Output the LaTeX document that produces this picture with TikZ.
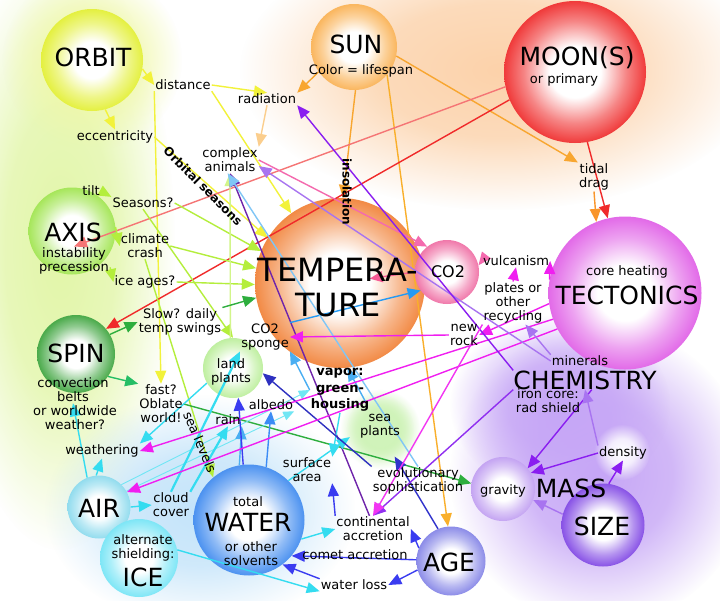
\documentclass[tikz,border=0pt]{standalone}
\usepackage{fontspec}
\setmainfont{DejaVu Sans}
\usetikzlibrary{arrows.meta,fadings}
\colorlet{ballc}{white}
\definecolor{cOrbit}{HTML}{E4F040}
\definecolor{cSun}{HTML}{FAB65E}
\definecolor{cMoon}{HTML}{F03A3A}
\definecolor{cAxis}{HTML}{A6E65A}
\definecolor{cSpin}{HTML}{4AAA4A}
\definecolor{cTemp}{HTML}{F28A45}
\definecolor{cCO}{HTML}{F078AA}
\definecolor{cTect}{HTML}{E26AE8}
\definecolor{cGrav}{HTML}{C4A4F2}
\definecolor{cSize}{HTML}{8852E6}
\definecolor{cAge}{HTML}{8C8CE8}
\definecolor{cWater}{HTML}{4C92F0}
\definecolor{cAir}{HTML}{92DCEE}
\definecolor{cIce}{HTML}{7EE6F6}
\definecolor{cPlant}{HTML}{BFEFA0}
\definecolor{gGreen}{HTML}{E2F6A8}
\definecolor{gYel}{HTML}{F0F8A8}
\definecolor{gPeach}{HTML}{FCD2AA}
\definecolor{gBlue}{HTML}{C4E4FA}
\definecolor{gLav}{HTML}{C6A6F6}
\definecolor{aYel}{HTML}{F2F23A}
\definecolor{aLime}{HTML}{B4EE3C}
\definecolor{aGrn}{HTML}{2EAE3E}
\definecolor{aOrg}{HTML}{F8A630}
\definecolor{aRed}{HTML}{F02A2A}
\definecolor{aCyan}{HTML}{34DCF0}
\definecolor{aLBlue}{HTML}{4AAEF2}
\definecolor{aBlue}{HTML}{3A3CF0}
\definecolor{aPurp}{HTML}{8A1EF0}
\definecolor{aLav}{HTML}{A874F0}
\definecolor{aMag}{HTML}{F01EF0}
\definecolor{aPink}{HTML}{F46AAE}
\pgfdeclareradialshading[ballc]{sphere}{\pgfpointorigin}{color(0bp)=(white);color(9bp)=(white);color(18bp)=(ballc!62!white);color(25bp)=(ballc);color(50bp)=(ballc)}
\pgfdeclareradialshading{glowshade}{\pgfpointorigin}{color(0bp)=(pgftransparent!0);color(12bp)=(pgftransparent!20);color(25bp)=(pgftransparent!100);color(50bp)=(pgftransparent!100)}
\pgfdeclarefading{glowfade}{\pgfuseshading{glowshade}}
\pgfdeclarelayer{front}
\pgfsetlayers{main,front}
\begin{document}
\begin{tikzpicture}[x=1pt,y=-1pt,
  sph/.style={circle, inner sep=0pt, draw=none, shading=sphere, setball=#1},
  setball/.code={\colorlet{ballc}{#1}},
  glw/.style={fill=#1, draw=none, path fading=glowfade, fit fading=true},
  lbl/.style={font=\fontsize{13}{14}\selectfont, align=center, inner sep=1pt},
  bl/.style={font=\bfseries\fontsize{12}{14}\selectfont, align=center, inner sep=1pt},
  bigt/.style={font=\fontsize{25}{27}\selectfont, inner sep=0pt},
  arr/.style={draw=#1, line width=1.4pt, -{Triangle[length=13pt,width=11pt]}},
  tarr/.style={draw=#1, line width=0.9pt, -{Triangle[length=11pt,width=9pt]}}]
\useasboundingbox (0,0) rectangle (720,600);
\fill[white] (0,0) rectangle (720,600);
% glows
\path[glw=gGreen] (60,250) ellipse [x radius=115, y radius=300];
\path[glw=gYel] (92,60) circle [radius=90];
\path[glw=gPeach] (500,70) ellipse [x radius=260, y radius=140];
\path[glw=gBlue] (200,510) ellipse [x radius=155, y radius=115];
\path[glw=gLav] (600,475) ellipse [x radius=150, y radius=150];
\path[glw=gLav] (560,405) ellipse [x radius=110, y radius=90];
\path[glw=cPlant] (380,429) circle [radius=40];
\path[glw=cPlant!70] (380,429) circle [radius=34];
\path[glw=white] (622,452) circle [radius=28];
% circles
\node[sph=cOrbit, minimum size=102pt] (orbit) at (92,60) {};
\node[sph=cSun, minimum size=86pt] (sun) at (354,47) {};
\node[sph=cMoon, minimum size=142pt] (moon) at (575,72) {};
\node[sph=cAxis, minimum size=87pt] (axis) at (72,231) {};
\node[sph=cSpin, minimum size=78pt] (spin) at (76,354) {};
\node[sph=cTemp, minimum size=170pt] (temp) at (340,283) {};
\node[sph=cCO, minimum size=64pt] (co2) at (447,272) {};
\node[sph=cTect, minimum size=153pt] (tect) at (625,293) {};
\node[sph=cGrav, minimum size=64pt] (grav) at (503,489) {};
\node[sph=cSize, minimum size=83pt] (size) at (603,525) {};
\node[sph=cAge, minimum size=69pt] (age) at (451,561) {};
\node[sph=cWater, minimum size=111pt] (water) at (249,520) {};
\node[sph=cAir, minimum size=63pt] (air) at (99,507) {};
\node[sph=cIce, minimum size=78pt] (ice) at (139,558) {};
\node[sph=cPlant, minimum size=60pt] (land) at (233,368) {};
\node[circle, inner sep=0pt, minimum size=62pt] (sea) at (380,429) {};
% texts
\begin{pgfonlayer}{front}
\node[bigt] at (93,57) {ORBIT};
\node[bigt] at (356,44) {SUN};
\node[lbl] at (361,71) {Color = lifespan};
\node[bigt] at (577,58) {MOON(S)};
\node[lbl] at (564,80) {or primary};
\node[lbl] (dist) at (183,85) {distance};
\node[lbl] (rad) at (267,99) {radiation};
\node[lbl] (ecc) at (115,137) {eccentricity};
\node[lbl] (comp) at (230,160) {complex\\animals};
\node[lbl] (tidal) at (594,177) {tidal\\drag};
\node[bl, rotate=-45] at (203,186) {Orbital seasons};
\node[bl, rotate=-90] at (347,192) {insolation};
\node[lbl] (tilt) at (91,191) {tilt};
\node[lbl] (seas) at (143,203) {Seasons?};
\node[bigt] at (73,232) {AXIS};
\node[lbl] (axsub) at (74,261) {instability\\precession};
\node[lbl] (clim) at (145,246) {climate\\crash};
\node[lbl] (iceag) at (145,282) {ice ages?};
\node[font=\fontsize{32}{35}\selectfont, align=center, inner sep=0pt] at (338,288) {TEMPERA-\\TURE};
\node[font=\fontsize{16}{18}\selectfont, inner sep=0pt] at (448,272) {CO2};
\node[lbl] (vulc) at (516,261) {vulcanism};
\node[lbl] (plates) at (513,303) {plates or\\other\\recycling};
\node[lbl] at (627,272) {core heating};
\node[bigt] at (627,295) {TECTONICS};
\node[lbl] (newrock) at (464,335) {new\\rock};
\node[lbl] (slow) at (180,322) {Slow? daily\\temp swings};
\node[lbl] (sponge) at (265,337) {CO2\\sponge};
\node[bigt] at (76,353) {SPIN};
\node[lbl] (minerals) at (580,361) {minerals};
\node[bigt] (chem) at (585,380) {CHEMISTRY};
\node[lbl] (iron) at (548,401) {iron core:\\rad shield};
\node[lbl] at (231,372) {land\\plants};
\node[font=\bfseries\fontsize{13}{16.5}\selectfont, align=center, inner sep=1pt] (vapor) at (340,390) {vapor:\\green-\\housing};
\node[lbl] (convb) at (73,390) {convection\\belts};
\node[lbl] at (75,418) {or worldwide\\weather?};
\node[lbl] (fast) at (161,404) {fast?\\Oblate\\world!};
\node[lbl] (albedo) at (271,405) {albedo};
\node[lbl] (rain) at (228,420) {rain};
\node[lbl, rotate=-67] at (200,442) {sea levels};
\node[lbl] (weath) at (102,451) {weathering};
\node[lbl] at (380,426) {sea\\plants};
\node[lbl] (surf) at (307,470) {surface\\area};
\node[lbl] (evo) at (418,481) {evolutionary\\sophistication};
\node[lbl] (cloud) at (171,505) {cloud\\cover};
\node[lbl] (cont) at (373,529) {continental\\accretion};
\node[lbl] at (355,555) {comet accretion};
\node[lbl] (wloss) at (354,585) {water loss};
\node[lbl] at (248,502) {total};
\node[bigt] at (248,522) {WATER};
\node[lbl] at (251,554) {or other\\solvents};
\node[bigt] at (99,508) {AIR};
\node[lbl] at (143,548) {alternate\\shielding:};
\node[bigt] at (143,577) {ICE};
\node[lbl] (dens) at (623,453) {density};
\node[lbl] at (503,491) {gravity};
\node[bigt] at (571,488) {MASS};
\node[bigt] at (602,526) {SIZE};
\node[bigt] at (449,562) {AGE};
\end{pgfonlayer}
% yellow
\draw[arr=aYel] (orbit.-10) -- (dist.west);
\draw[arr=aYel] (orbit.-75) -- (ecc.north);
\draw[arr=aYel] (dist.east) -- (rad.north);
\draw[arr=aYel] (dist.south east) -- (temp.125);
\draw[arr=aYel] (dist.south west) -- (fast.north);
\draw[arr=aYel] (ecc.east) -- (temp.148);
% orange
\draw[arr=aOrg] (sun.215) -- (rad.north east);
\draw[arr=aOrg!55] (rad.south) -- (comp.north east);
\draw[arr=aOrg] (sun.-88) -- (temp.88);
\draw[arr=aOrg] (sun.-12) -- (tidal.north west);
\draw[arr=aOrg!90!yellow] (sun.-40) -- (age.95);
\draw[arr=aOrg!90!red] (tidal.south) -- (tect.112);
% red
\draw[arr=aRed] (moon.-80) -- (tect.103);
\draw[arr=aRed] (moon.203) -- (spin.40);
\draw[arr=aRed!65] (moon.192) -- (axsub.north);
% lime
\draw[arr=aLime] (tilt.east) -- (seas.north west);
\draw[arr=aLime] (axis.5) -- (clim.west);
\draw[arr=aLime] (axsub.-10) -- (iceag.west);
\draw[arr=aLime] (seas.east) -- (temp.158);
\draw[arr=aLime] (clim.east) -- (temp.170);
\draw[arr=aLime] (iceag.east) -- (temp.181);
\draw[arr=aLime] (seas.south) -- (land.north);
\draw[arr=aLime] (clim.south) -- (water.130);
\draw[arr=aLime!60] (land.95) -- (comp.south);
% green
\draw[arr=aGrn] (spin.30) -- (slow.west);
\draw[arr=aGrn] (slow.north east) -- (temp.190);
\draw[arr=aGrn!80!cyan] (spin.-35) -- (fast.north west);
\draw[arr=aGrn] (fast.east) -- (grav.170);
% cyan / blue
\draw[arr=aCyan] (air.112) -- (convb.south);
\draw[arr=aCyan] (air.95) -- (weath.south);
\draw[arr=aCyan] (air.0) -- (cloud.west);
\draw[tarr=aCyan!70] (air.45) -- (vapor.west);
\draw[tarr=aCyan!70] (air.30) -- (albedo.south east);
\draw[arr=aCyan] (land.-150) -- (weath.north east);
\draw[arr=aCyan, line width=2.2pt] (cloud.north east) -- (rain.south);
\draw[arr=aCyan, line width=2.2pt] (cloud.north) -- (sponge.south west);
\draw[arr=aLBlue] (water.100) -- (rain.south east);
\draw[arr=aLBlue!80!blue] (water.72) -- (albedo.south);
\draw[arr=aCyan] (water.-20) -- (cont.west);
\draw[arr=aBlue] (age.178) -- (water.-40);
\draw[arr=aBlue] (wloss.north west) -- (water.-53);
\draw[arr=aBlue] (age.-165) -- (wloss.east);
\draw[arr=aBlue] (age.158) -- (cont.east);
\draw[arr=aBlue!85!black] (age.112) -- (sea.-62);
\draw[arr=aBlue] (cont.north west) -- (surf.south east);
\draw[arr=aBlue!60!purple] (cont.105) -- (comp.south);
\draw[arr=aCyan] (ice.12) -- (wloss.south west);
\draw[arr=aCyan] (vapor.south) -- (surf.north east);
\draw[arr=aCyan] (water.45) -- (sea.195);
\draw[arr=aCyan!70!blue] (sponge.north east) -- (co2.215);
\draw[arr=aLBlue] (sea.118) -- (temp.-85);
\draw[arr=aLBlue] (vapor.west) -- (sponge.south east);
\draw[arr=aBlue!80!black] (evo.north west) -- (land.-10);
\draw[arr=aBlue] (water.96) -- (land.-80);
\draw[arr=aLBlue!70] (evo.north) -- (comp.-100);
% magenta / purple
\draw[arr=aPink] (comp.east) -- (co2.128);
\draw[arr=aPink!85!red, shorten >=30pt] (co2.180) -- (temp.center);
\draw[arr=aPink] (vulc.west) -- (co2.12);
\draw[arr=aMag] (tect.170) -- (vulc.east);
\draw[arr=aMag] (plates.north) -- (vulc.south);
\draw[arr=aMag] (tect.188) -- (newrock.east);
\draw[arr=aMag] (newrock.west) -- (sponge.east);
\draw[arr=aMag] (tect.200) -- (weath.east);
\draw[arr=aMag] (tect.208) -- (air.28);
\draw[arr=aLav] (minerals.north west) -- (plates.-60);
\draw[arr=aLav] (minerals.west) -- (comp.-12);
\draw[arr=aPurp] (chem.north west) -- (rad.south east);
\draw[arr=aPurp!80!aLav] (chem.south west) -- (cont.north);
\draw[arr=aMag!90] (plates.south west) -- (cont.north);
\draw[arr=aPurp] (dens.west) -- (grav.30);
\draw[arr=aPurp] (size.82) -- (dens.south);
\draw[arr=aLav] (size.165) -- (grav.-20);
\draw[arr=aPurp] (chem.-55) -- (grav.40);
\draw[arr=aLav] (dens.north west) -- (chem.south);
\end{tikzpicture}
\end{document}
